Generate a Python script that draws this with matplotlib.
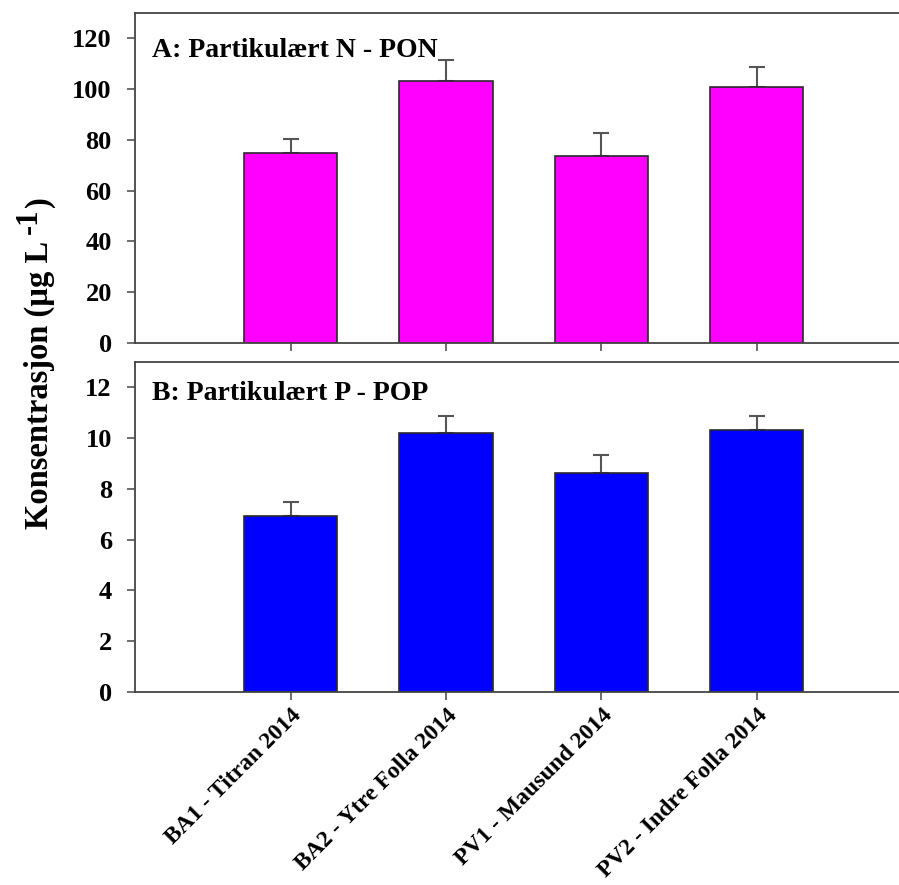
"""
Particulate N and P concentrations at four stations, 2014.
"""

import matplotlib
matplotlib.use('Agg')
import matplotlib.pyplot as plt
import numpy as np


STATIONS = ['BA1 - Titran 2014', 'BA2 - Ytre Folla 2014',
            'PV1 - Mausund 2014', 'PV2 - Indre Folla 2014']

PON_MEAN = [74.9, 103.1, 73.6, 100.9]
PON_ERR = [5.5, 8.2, 9.1, 7.9]

POP_MEAN = [6.92, 10.20, 8.63, 10.32]
POP_ERR = [0.55, 0.68, 0.71, 0.56]

PON_TICKS = [0, 20, 40, 60, 80, 100, 120]
POP_TICKS = [0, 2, 4, 6, 8, 10, 12]


def main():

    plt.rcParams['font.family'] = 'Liberation Serif'
    plt.rcParams['font.weight'] = 'bold'

    fig = plt.figure(figsize=(8.99, 8.85), dpi=100)

    # x runs 0..5, so the right spine sits just past the figure edge
    left, width = 0.1507, 0.8637
    ax_n = fig.add_axes([left, 0.6124, width, 0.3729])
    ax_p = fig.add_axes([left, 0.2181, width, 0.3729])

    draw_panel(ax_n, PON_MEAN, PON_ERR, '#FF00FF', (0, 130), PON_TICKS,
               'A: Partikulært N - PON', 0.867)
    draw_panel(ax_p, POP_MEAN, POP_ERR, '#0000FF', (0, 13), POP_TICKS,
               'B: Partikulært P - POP', 0.885)

    ax_n.set_xticklabels([])
    ax_p.set_xticklabels(STATIONS, rotation=45, ha='right', va='top',
                         rotation_mode='anchor', fontsize=17,
                         fontweight='bold')
    ax_p.tick_params(axis='x', pad=3)

    draw_ylabel(fig)

    fig.savefig('out.png', dpi=100)


def draw_ylabel(fig):

    # Shared y label, built in pieces so the exponent can be sized freely.
    x = 0.044
    main_txt = fig.text(x, 0.402, 'Konsentrasjon (µg L', rotation=90,
                        ha='center', va='bottom', fontsize=23.5,
                        fontweight='bold')
    fig.canvas.draw()
    renderer = fig.canvas.get_renderer()
    inv = fig.transFigure.inverted()

    bb = main_txt.get_window_extent(renderer).transformed(inv)
    sup = fig.text(bb.x0, bb.y1 + 0.008, '-1', rotation=90,
                   ha='left', va='bottom', fontsize=22, fontweight='bold')
    sb = sup.get_window_extent(renderer).transformed(inv)
    sup.set_x(bb.x0 - 0.3 * sb.width)
    fig.text(x, sb.y1 + 0.002, ')', rotation=90, ha='center', va='bottom',
             fontsize=23.5, fontweight='bold')


def draw_panel(ax, means, errs, color, ylim, yticks, title, title_y):

    x = np.arange(1, len(means) + 1)
    lower = np.zeros(len(errs))

    ax.bar(x, means, width=0.6, color=color, edgecolor='#2a2a2a',
           linewidth=1.2, zorder=2)
    ax.errorbar(x, means, yerr=[lower, errs], fmt='none', ecolor='#555555',
                elinewidth=1.5, capsize=6, capthick=1.5, zorder=1)

    ax.set_xlim(0, 5)
    ax.set_ylim(*ylim)
    ax.set_xticks(x)
    ax.set_yticks(yticks)
    ax.set_yticklabels([str(t) for t in yticks], fontsize=19,
                       fontweight='bold')

    for side in ['left', 'bottom', 'top', 'right']:
        ax.spines[side].set_color('#444444')
        ax.spines[side].set_linewidth(1.3)

    ax.tick_params(axis='both', direction='out', length=6, width=1.2,
                   color='#555555')
    ax.tick_params(axis='y', pad=11)

    ax.text(0.021, title_y, title, transform=ax.transAxes, ha='left',
            va='baseline', fontsize=20, fontweight='bold')


if __name__ == '__main__':
    main()
